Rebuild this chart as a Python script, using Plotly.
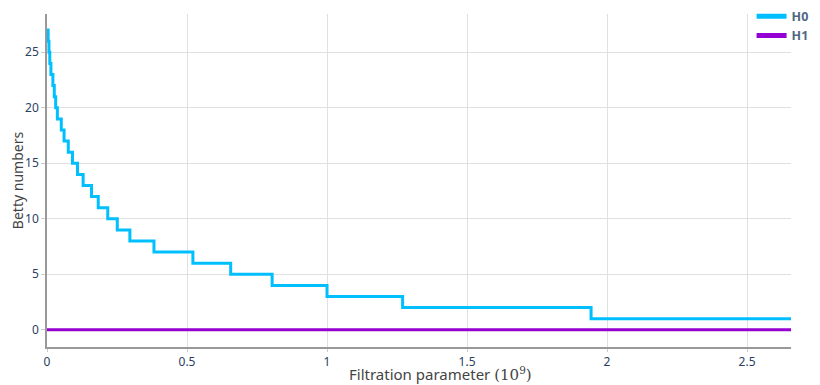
import plotly.graph_objects as go

# H0 Betti curve: filtration values (in 1e9) where the count changes, and the counts
h0_x = [0, 0.004, 0.007, 0.010, 0.014, 0.021, 0.026, 0.031, 0.037, 0.051, 0.061,
        0.076, 0.091, 0.109, 0.129, 0.159, 0.183, 0.217, 0.251, 0.296, 0.382,
        0.521, 0.656, 0.804, 1.0, 1.270, 1.943, 2.657]
h0_y = [27, 26, 25, 24, 23, 22, 21, 20, 19, 18, 17,
        16, 15, 14, 13, 12, 11, 10, 9, 8, 7,
        6, 5, 4, 3, 2, 1, 1]
h1_x = [0, 2.657]
h1_y = [0, 0]

series_names = ["H0", "H1"]
series_colors = ["#00BFFF", "#9400D3"]

x_tickvals = [0, 0.5, 1, 1.5, 2, 2.5]
x_ticktext = ["0", "0.5", "1", "1.5", "2", "2.5"]
y_tickvals = [0, 5, 10, 15, 20, 25]

fig = go.Figure()
for name, color, xs, ys in zip(series_names, series_colors, [h0_x, h1_x], [h0_y, h1_y]):
    fig.add_trace(go.Scatter(x=xs, y=ys, mode="lines", name=name, legendgroup=name,
                             showlegend=False,
                             line=dict(color=color, width=3, shape="hv")))
# legend entries (thicker symbol lines, as in the reference)
for name, color in zip(series_names, series_colors):
    fig.add_trace(go.Scatter(x=[None], y=[None], mode="lines", name=name, legendgroup=name,
                             showlegend=True, line=dict(color=color, width=5)))

font_family = "Noto Sans, Open Sans, sans-serif"
fig.update_layout(
    width=820, height=385,
    margin=dict(l=39, r=37, t=6, b=46, autoexpand=False),
    paper_bgcolor="white", plot_bgcolor="white",
    font=dict(family=font_family, color="#444"),
    showlegend=True,
    legend=dict(x=0.947, y=1.037, xanchor="left", yanchor="top",
                font=dict(size=12.5, color="#506784", family=font_family, weight="bold"),
                bgcolor="rgba(0,0,0,0)", tracegroupgap=0),
    xaxis=dict(range=[0, 2.657], tickvals=x_tickvals, ticktext=x_ticktext,
               automargin=False,
               showgrid=True, gridcolor="#e0e0e0", zeroline=False,
               showline=True, linecolor="#999", linewidth=1.5,
               ticks="outside", ticklen=3, tickcolor="#ccc",
               tickfont=dict(size=12, color="#2a3f5f")),
    yaxis=dict(range=[-1.55, 28.45], tickvals=y_tickvals,
               automargin=False,
               showgrid=True, gridcolor="#e0e0e0", zeroline=False,
               showline=True, linecolor="#999", linewidth=1.5,
               ticks="outside", ticklen=4, tickcolor="#ccc",
               tickfont=dict(size=12, color="#2a3f5f"),
               title=dict(text="Betty numbers", font=dict(size=14, color="#444"))),
    annotations=[dict(
        text='Filtration parameter <span style="font-family:DejaVu Serif, serif">(10<sup>9</sup>)</span>',
        xref="paper", yref="paper", x=0.5286, y=0, xanchor="center", yanchor="top",
        yshift=-15, showarrow=False, font=dict(size=15, color="#444"))],
)

fig.write_html("out.html")
